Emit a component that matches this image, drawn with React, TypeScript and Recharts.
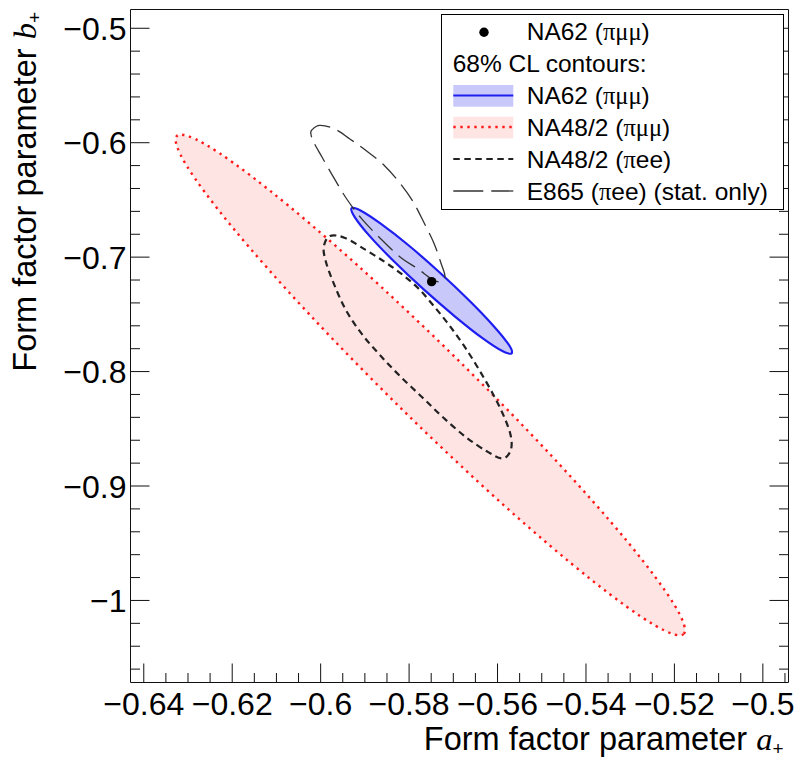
import { Scatter, ScatterChart, XAxis, YAxis } from 'recharts';

// axis ticks (ROOT style: majors labelled, minors unlabelled)
const xMajorTicks = [-0.64, -0.62, -0.6, -0.58, -0.56, -0.54, -0.52, -0.5];
const xMinorTicks = [
  -0.635, -0.63, -0.625, -0.615, -0.61, -0.605, -0.595, -0.59, -0.585, -0.575, -0.57,
  -0.565, -0.555, -0.55, -0.545, -0.535, -0.53, -0.525, -0.515, -0.51, -0.505, -0.495,
];
const yMajorTicks = [-1, -0.9, -0.8, -0.7, -0.6, -0.5];
const yMinorTicks = [
  -1.06, -1.04, -1.02, -0.98, -0.96, -0.94, -0.92, -0.88, -0.86, -0.84, -0.82, -0.78,
  -0.76, -0.74, -0.72, -0.68, -0.66, -0.64, -0.62, -0.58, -0.56, -0.54, -0.52,
];

// central value of the NA62 (pi mu mu) fit
const na62Point: [number, number][] = [[-0.5749, -0.7214]];

// 68% CL contours (a+, b+)
const na62Contour: [number, number][] = [
  [-0.5568, -0.784], [-0.5589, -0.7821], [-0.5634, -0.7708], [-0.5696, -0.7519],
  [-0.5767, -0.7282], [-0.5835, -0.7034], [-0.589, -0.6812], [-0.5923, -0.665],
  [-0.593, -0.6573], [-0.591, -0.6592], [-0.5865, -0.6705], [-0.5802, -0.6894],
  [-0.5732, -0.713], [-0.5664, -0.7379], [-0.5609, -0.7601], [-0.5575, -0.7763],
];

const na48MuMuContour: [number, number][] = [
  [-0.5179, -1.0293], [-0.5245, -1.0216], [-0.5388, -0.9819], [-0.5587, -0.9164],
  [-0.5811, -0.8349], [-0.6026, -0.7498], [-0.6199, -0.6742], [-0.6304, -0.6195],
  [-0.6325, -0.5941], [-0.6259, -0.6018], [-0.6116, -0.6415], [-0.5917, -0.707],
  [-0.5693, -0.7885], [-0.5478, -0.8736], [-0.5305, -0.9492], [-0.52, -1.0039],
];

const na48EEContour: [number, number][] = [
  [-0.5979, -0.6815], [-0.5945, -0.6832], [-0.5898, -0.6937], [-0.5855, -0.7042],
  [-0.5817, -0.7147], [-0.578, -0.7269], [-0.5744, -0.7427], [-0.5708, -0.7601],
  [-0.5674, -0.7785], [-0.564, -0.7995], [-0.5608, -0.8213], [-0.5584, -0.8405],
  [-0.557, -0.8563], [-0.557, -0.8685], [-0.5588, -0.8759], [-0.5622, -0.8702],
  [-0.5672, -0.8571], [-0.5724, -0.8397], [-0.5771, -0.8222], [-0.5821, -0.8038],
  [-0.5866, -0.7855], [-0.5907, -0.7671], [-0.5943, -0.7462], [-0.597, -0.7234],
  [-0.5988, -0.7042], [-0.5993, -0.6911],
];

const e865Contour: [number, number][] = [
  [-0.602, -0.5889], [-0.6002, -0.5849], [-0.5968, -0.588], [-0.5934, -0.5967],
  [-0.5896, -0.6072], [-0.5855, -0.6203], [-0.5821, -0.6352], [-0.5792, -0.6509],
  [-0.5767, -0.6693], [-0.5744, -0.6876], [-0.5728, -0.7051], [-0.5719, -0.7164],
  [-0.5728, -0.7217], [-0.5749, -0.7191], [-0.578, -0.7103], [-0.5821, -0.6996],
  [-0.5866, -0.6832], [-0.5907, -0.6666], [-0.5941, -0.6492], [-0.597, -0.6308],
  [-0.5997, -0.6125], [-0.6016, -0.5994], [-0.6022, -0.5924],
];

const SANS = '"Liberation Sans", Arial, Helvetica, sans-serif';
const SERIF = '"Liberation Serif", "DejaVu Serif", serif';

const toRows = (pts: [number, number][]) => pts.map(([a, b]) => ({ a, b }));
const fmt = (v: number) => String(v).replace('-', '\u2212');

type Side = 'bottom' | 'top' | 'left' | 'right';

function frameTick(side: Side, majors: number[]) {
  return function Tick(props: any) {
    const { x, y, payload } = props;
    const v = payload.value as number;
    const major = majors.some((m) => Math.abs(m - v) < 1e-9);
    const len = major ? 19 : 9.5;
    let x2 = x;
    let y2 = y;
    if (side === 'bottom') y2 = y - len;
    if (side === 'top') y2 = y + len;
    if (side === 'left') x2 = x + len;
    if (side === 'right') x2 = x - len;
    return (
      <g>
        <line x1={x} y1={y} x2={x2} y2={y2} stroke="#111" strokeWidth={1} />
        {major && side === 'bottom' && (
          <text x={x} y={y + 32} textAnchor="middle" fontFamily={SANS} fontSize={32} fill="#000">
            {fmt(v)}
          </text>
        )}
        {major && side === 'left' && (
          <text x={x - 4} y={y + 11.5} textAnchor="end" fontFamily={SANS} fontSize={32} fill="#000">
            {fmt(v)}
          </text>
        )}
      </g>
    );
  };
}

// closed Catmull-Rom curve through the contour points
function closedPath(pts: { x: number; y: number }[]) {
  const n = pts.length;
  let d = `M${pts[0].x},${pts[0].y}`;
  for (let i = 0; i < n; i++) {
    const p0 = pts[(i - 1 + n) % n];
    const p1 = pts[i];
    const p2 = pts[(i + 1) % n];
    const p3 = pts[(i + 2) % n];
    const c1x = p1.x + (p2.x - p0.x) / 6;
    const c1y = p1.y + (p2.y - p0.y) / 6;
    const c2x = p2.x - (p3.x - p1.x) / 6;
    const c2y = p2.y - (p3.y - p1.y) / 6;
    d += ` C${c1x},${c1y} ${c2x},${c2y} ${p2.x},${p2.y}`;
  }
  return d + ' Z';
}

const contour = (style: Record<string, any>) => (props: any) => (
  <path d={closedPath(props.points)} {...style} />
);

const noMarker = () => <g />;
const dotMarker = (props: any) => <circle cx={props.cx} cy={props.cy} r={4.7} fill="#000" />;

const blueLine = { fill: '#c8c8fa', stroke: '#1e1ef0', strokeWidth: 2.2 };
const redLine = { fill: '#ffe4e4', stroke: '#ff1a1a', strokeWidth: 2.4, strokeDasharray: '2.4 4.6' };
const eeLine = { fill: 'none', stroke: '#222', strokeWidth: 2.2, strokeDasharray: '6.5 4.5' };
const e865Line = { fill: 'none', stroke: '#333', strokeWidth: 1.3, strokeDasharray: '20 8' };

function XTitle(props: any) {
  const { viewBox } = props;
  return (
    <text x={viewBox.x + viewBox.width - 5} y={viewBox.y + 67} textAnchor="end" fontFamily={SANS} fontSize={32.5} fill="#000">
      Form factor parameter{' '}
      <tspan fontFamily={SERIF} fontStyle="italic">a</tspan>
      <tspan fontSize={19} dy={5}>+</tspan>
    </text>
  );
}

function YTitle(props: any) {
  const { viewBox } = props;
  const x = viewBox.x - 94;
  const y = 12;
  return (
    <text transform={`rotate(-90 ${x} ${y})`} x={x} y={y} textAnchor="end" fontFamily={SANS} fontSize={32.5} fill="#000">
      Form factor parameter{' '}
      <tspan fontFamily={SERIF} fontStyle="italic">b</tspan>
      <tspan fontSize={19} dy={5}>+</tspan>
    </text>
  );
}

function LegendBox() {
  const text = { fontFamily: SANS, fontSize: 24.5, fill: '#000' };
  return (
    <svg width={344} height={197} style={{ position: 'absolute', left: 441, top: 14 }}>
      <rect x={0.5} y={0.5} width={342} height={195} fill="#fff" stroke="#000" strokeWidth={1} />
      <circle cx={43} cy={18.3} r={4.7} fill="#000" />
      <text x={85.7} y={26} {...text}>
        NA62 (<tspan fontFamily={SERIF}>πμμ</tspan>)
      </text>
      <text x={11.7} y={58} {...text}>68% CL contours:</text>
      <rect x={12.3} y={71} width={60} height={21.7} fill="#c8c8fa" />
      <line x1={12.3} y1={81.5} x2={72.3} y2={81.5} stroke="#1e1ef0" strokeWidth={2.2} />
      <text x={85.7} y={90} {...text}>
        NA62 (<tspan fontFamily={SERIF}>πμμ</tspan>)
      </text>
      <rect x={12.3} y={102.7} width={60} height={21.7} fill="#ffe4e4" />
      <line x1={12.3} y1={113} x2={72.3} y2={113} stroke="#ff1a1a" strokeWidth={2.4} strokeDasharray="2.4 4.6" />
      <text x={85.7} y={122} {...text}>
        NA48/2 (<tspan fontFamily={SERIF}>πμμ</tspan>)
      </text>
      <line x1={12.3} y1={145} x2={72.3} y2={145} stroke="#222" strokeWidth={2.2} strokeDasharray="6.5 4.5" />
      <text x={85.7} y={154} {...text}>
        NA48/2 (<tspan fontFamily={SERIF}>π</tspan>ee)
      </text>
      <line x1={12.3} y1={177} x2={72.3} y2={177} stroke="#333" strokeWidth={1.3} strokeDasharray="30 8" />
      <text x={85.7} y={186} {...text}>
        E865 (<tspan fontFamily={SERIF}>π</tspan>ee) (stat. only)
      </text>
    </svg>
  );
}

const xDomain = [-0.643, -0.4942];
const yDomain = [-1.0717, -0.4836];
const xTicks = [...xMajorTicks, ...xMinorTicks].sort((p, q) => p - q);
const yTicks = [...yMajorTicks, ...yMinorTicks].sort((p, q) => p - q);

export default function App() {
  return (
    <div style={{ position: 'absolute', left: 0, top: 0, width: 798, height: 761, background: '#fff' }}>
      <ScatterChart width={798} height={761} margin={{ top: 8.5, right: 8.5, bottom: 77.5, left: 129.5 }}>
        <XAxis
          xAxisId="bottom"
          orientation="bottom"
          type="number"
          dataKey="a"
          domain={xDomain}
          allowDataOverflow
          ticks={xTicks}
          interval={0}
          height={1}
          tickSize={0}
          tickMargin={0}
          tickLine={false}
          axisLine={{ stroke: '#111' }}
          tick={frameTick('bottom', xMajorTicks)}
          label={<XTitle />}
        />
        <XAxis
          xAxisId="top"
          orientation="top"
          type="number"
          domain={xDomain}
          allowDataOverflow
          ticks={xTicks}
          interval={0}
          height={1}
          tickSize={0}
          tickMargin={0}
          tickLine={false}
          axisLine={{ stroke: '#111' }}
          tick={frameTick('top', xMajorTicks)}
        />
        <YAxis
          yAxisId="left"
          orientation="left"
          type="number"
          dataKey="b"
          domain={yDomain}
          allowDataOverflow
          ticks={yTicks}
          interval={0}
          width={1}
          tickSize={0}
          tickMargin={0}
          tickLine={false}
          axisLine={{ stroke: '#111' }}
          tick={frameTick('left', yMajorTicks)}
          label={<YTitle />}
        />
        <YAxis
          yAxisId="right"
          orientation="right"
          type="number"
          domain={yDomain}
          allowDataOverflow
          ticks={yTicks}
          interval={0}
          width={1}
          tickSize={0}
          tickMargin={0}
          tickLine={false}
          axisLine={{ stroke: '#111' }}
          tick={frameTick('right', yMajorTicks)}
        />
        <Scatter xAxisId="bottom" yAxisId="left" data={toRows(na48MuMuContour)} line={contour(redLine)} shape={noMarker} isAnimationActive={false} />
        <Scatter xAxisId="bottom" yAxisId="left" data={toRows(na48EEContour)} line={contour(eeLine)} shape={noMarker} isAnimationActive={false} />
        <Scatter xAxisId="bottom" yAxisId="left" data={toRows(na62Contour)} line={contour(blueLine)} shape={noMarker} isAnimationActive={false} />
        <Scatter xAxisId="bottom" yAxisId="left" data={toRows(e865Contour)} line={contour(e865Line)} shape={noMarker} isAnimationActive={false} />
        <Scatter xAxisId="bottom" yAxisId="left" data={toRows(na62Point)} shape={dotMarker} isAnimationActive={false} />
      </ScatterChart>
      <LegendBox />
    </div>
  );
}
